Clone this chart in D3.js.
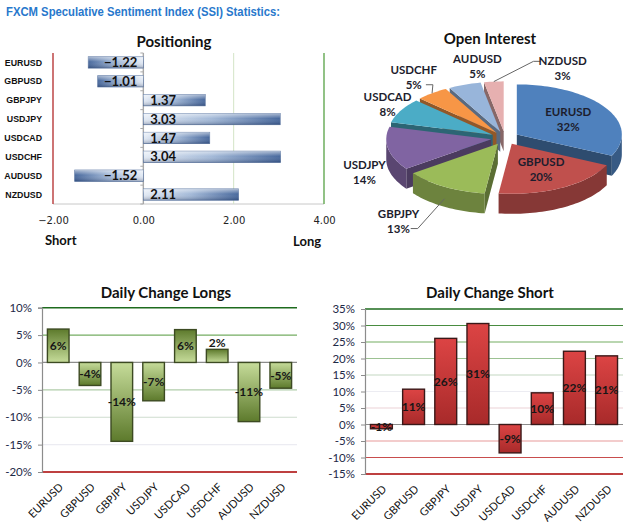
<!DOCTYPE html>
<html>
<head>
<meta charset="utf-8">
<script src="https://cdn.jsdelivr.net/npm/d3@7/dist/d3.min.js"></script>
<style>
  body { margin: 0; background: #fff; }
  text { font-family: Lato, "Liberation Sans", sans-serif; }
</style>
</head>
<body>
<svg id="chart"></svg>
<script>
// ---- data ----
const pairs = ['EURUSD', 'GBPUSD', 'GBPJPY', 'USDJPY', 'USDCAD', 'USDCHF', 'AUDUSD', 'NZDUSD'];
const ssi = [-1.22, -1.01, 1.37, 3.03, 1.47, 3.04, -1.52, 2.11];
const ssiTicks = [-2, 0, 2, 4];
const openInterest = [32, 20, 13, 14, 8, 5, 5, 3];
const longsChange = [6.1, -4.2, -14.4, -7.0, 6.0, 2.4, -10.8, -4.7];
const longsTicks = [10, 5, 0, -5, -10, -15, -20];
const shortsChange = [-1.3, 10.7, 26.1, 30.6, -8.6, 9.6, 22.2, 20.8];
const shortsTicks = [35, 30, 25, 20, 15, 10, 5, 0, -5, -10, -15];

const pieColors = ['#4f81bd', '#c0504d', '#9bbb59', '#8064a2', '#4bacc6', '#f79646', '#98b5da', '#e6b0b0'];

const svg = d3.select('#chart').attr('width', 625).attr('height', 522);
const defs = svg.append('defs');

function linGrad(id, x2, y2, stops){
    const g = defs.append('linearGradient').attr('id', id)
        .attr('x1', 0).attr('y1', 0).attr('x2', x2).attr('y2', y2);
    stops.forEach(s => g.append('stop').attr('offset', s[0]).attr('stop-color', s[1]).attr('stop-opacity', s[2] == null ? 1 : s[2]));
}

linGrad('bluePos', 1, 0, [[0, '#e4ebf5'], [0.5, '#9fb6d6'], [1, '#3f6198']]);
linGrad('blueNeg', 1, 0, [[0, '#3f6198'], [0.5, '#9fb6d6'], [1, '#e4ebf5']]);
linGrad('gloss', 0, 1, [[0, '#fff', 0.55], [0.45, '#fff', 0.05], [1, '#0a1a40', 0.3]]);
linGrad('greenPos', 0, 1, [[0, '#5d7a2c'], [1, '#c6dc9a']]);
linGrad('greenNeg', 0, 1, [[0, '#c6dc9a'], [1, '#5d7a2c']]);
linGrad('redBar', 0, 1, [[0, '#dc4444'], [1, '#a82a2a']]);

// page title
svg.append('text')
    .attr('x', 6).attr('y', 16)
    .attr('textLength', 274).attr('lengthAdjust', 'spacingAndGlyphs')
    .style('font-family', '"Liberation Sans", sans-serif')
    .attr('font-size', 12).attr('font-weight', 'bold').attr('fill', '#2878cc')
    .text('FXCM Speculative  Sentiment  Index (SSI) Statistics:');

class PositionChart{
    constructor(config, data){
        this.config = {
            left: config.left, right: config.right,
            top: config.top, bottom: config.bottom
        };
        this.data = data;
        this.init();
    }

    init(){
        const c = this.config;
        this.chart = svg.append('g');

        this.xscale = d3.scaleLinear()
            .domain([-2, 4])
            .range([c.left, c.right]);

        this.yscale = d3.scaleBand()
            .domain(pairs)
            .range([c.top, c.bottom])
            .paddingInner(0.4)
            .paddingOuter(0.2);

        this.gridcolor = d3.scaleOrdinal()
            .domain(ssiTicks)
            .range(['#b8393a', '#a8a8a8', '#d4e4c6', '#63a852']);

        this.render();
    }

    render(){
        const c = this.config;
        const x = this.xscale, y = this.yscale;

        this.chart.append('text')
            .attr('x', 174).attr('y', 47)
            .attr('text-anchor', 'middle')
            .attr('font-size', 15).attr('font-weight', 'bold').attr('fill', '#111')
            .text('Positioning');

        // bottom axis line
        this.chart.append('line')
            .attr('x1', c.left).attr('x2', c.right)
            .attr('y1', c.bottom).attr('y2', c.bottom)
            .attr('stroke', '#c8c8c8');

        this.chart.selectAll('.grid')
            .data(ssiTicks)
            .join('line')
            .attr('x1', d => x(d)).attr('x2', d => x(d))
            .attr('y1', c.top).attr('y2', c.bottom)
            .attr('stroke', d => this.gridcolor(d))
            .attr('stroke-width', d => d === 2 ? 1 : 1.4);

        // small ticks on the zero line
        this.chart.selectAll('.ztick')
            .data(d3.range(pairs.length + 1))
            .join('line')
            .attr('x1', x(0) - 3).attr('x2', x(0))
            .attr('y1', i => c.top + i * y.step()).attr('y2', i => c.top + i * y.step())
            .attr('stroke', '#aaa');

        const xaxis = d3.axisBottom(x)
            .tickValues(ssiTicks)
            .tickFormat(d3.format('.2f'))
            .tickSize(0)
            .tickPadding(13);

        const ax = this.chart.append('g')
            .attr('transform', `translate(0, ${c.bottom})`)
            .call(xaxis);
        ax.select('.domain').remove();
        ax.selectAll('text')
            .style('font-family', '"DejaVu Sans", sans-serif')
            .attr('font-size', 10).attr('fill', '#222');

        this.chart.selectAll('.cat')
            .data(pairs)
            .join('text')
            .attr('x', 42).attr('y', d => y(d) + y.bandwidth() / 2)
            .attr('dy', '0.35em')
            .attr('text-anchor', 'end')
            .style('font-family', '"Liberation Sans", sans-serif')
            .attr('font-size', 8.8).attr('font-weight', 'bold').attr('fill', '#111')
            .text(d => d);

        const rows = pairs.map((p, i) => ({pair: p, v: this.data[i]}));

        this.chart.selectAll('.bar')
            .data(rows)
            .join('rect')
            .attr('x', d => Math.min(x(0), x(d.v)))
            .attr('y', d => y(d.pair))
            .attr('width', d => Math.abs(x(d.v) - x(0)))
            .attr('height', y.bandwidth())
            .attr('fill', d => d.v < 0 ? 'url(#blueNeg)' : 'url(#bluePos)')
            .attr('stroke', '#5d78a3').attr('stroke-width', 0.7);

        this.chart.selectAll('.gloss')
            .data(rows)
            .join('rect')
            .attr('x', d => Math.min(x(0), x(d.v)))
            .attr('y', d => y(d.pair))
            .attr('width', d => Math.abs(x(d.v) - x(0)))
            .attr('height', y.bandwidth())
            .attr('fill', 'url(#gloss)');

        this.chart.selectAll('.val')
            .data(rows)
            .join('text')
            .attr('x', d => d.v < 0 ? x(0) - 6 : x(0) + 7)
            .attr('y', d => y(d.pair) + y.bandwidth() / 2)
            .attr('dy', '0.36em')
            .attr('text-anchor', d => d.v < 0 ? 'end' : 'start')
            .attr('font-size', 13).attr('font-weight', 'bold').attr('fill', '#111')
            .text(d => d3.format('.2f')(d.v));

        this.chart.append('text')
            .attr('x', 45).attr('y', 245)
            .attr('font-size', 13).attr('font-weight', 'bold').attr('fill', '#111')
            .text('Short');
        this.chart.append('text')
            .attr('x', 293).attr('y', 246)
            .attr('font-size', 13).attr('font-weight', 'bold').attr('fill', '#111')
            .text('Long');
    }
}

class PieChart3D{
    constructor(config, data){
        this.config = config;
        this.data = data;
        this.init();
    }

    init(){
        this.chart = svg.append('g');
        this.slices = d3.pie().sort(null).startAngle(0).endAngle(2 * Math.PI)(this.data)
            .map((s, i) => {
                const c = this.config;
                const mid = (s.startAngle + s.endAngle) / 2;
                return {
                    pair: pairs[i], value: s.value, color: pieColors[i],
                    a0: s.startAngle, a1: s.endAngle, mid: mid,
                    o: [c.explode * Math.sin(mid), -c.explode * Math.cos(mid) * c.ry / c.rx]
                };
            });
        this.line = d3.line();
        this.render();
    }

    pt(a, o, k, dz){
        const c = this.config;
        return [c.cx + o[0] + k * c.rx * Math.sin(a), c.cy + o[1] - k * c.ry * Math.cos(a) + dz];
    }

    arcPts(a0, a1, o, dz){
        const n = Math.max(2, Math.ceil((a1 - a0) / 0.03));
        return d3.range(n + 1).map(i => this.pt(a0 + (a1 - a0) * i / n, o, 1, dz));
    }

    render(){
        const c = this.config;

        this.chart.append('text')
            .attr('x', 490).attr('y', 44)
            .attr('text-anchor', 'middle')
            .attr('font-size', 15).attr('font-weight', 'bold').attr('fill', '#111')
            .text('Open Interest');

        const order = this.slices.slice().sort((a, b) => -Math.cos(a.mid) + Math.cos(b.mid));

        order.forEach(s => {
            const g = this.chart.append('g');
            const v = [c.cx + s.o[0], c.cy + s.o[1]];
            const vb = [v[0], v[1] + c.depth];
            const base = d3.color(s.color);

            // cut faces
            const cuts = [];
            if (Math.sin(s.a0) < -1e-6) cuts.push(s.a0);
            if (Math.sin(s.a1) > 1e-6) cuts.push(s.a1);
            cuts.forEach(a => {
                g.append('path')
                    .attr('d', this.line([v, this.pt(a, s.o, 1, 0), this.pt(a, s.o, 1, c.depth), vb]) + 'Z')
                    .attr('fill', base.darker(1.5));
            });

            // outer wall
            const st = Math.max(s.a0, Math.PI / 2), en = Math.min(s.a1, 3 * Math.PI / 2);
            if (st < en) {
                const pts = this.arcPts(st, en, s.o, 0).concat(this.arcPts(st, en, s.o, c.depth).reverse());
                g.append('path')
                    .attr('d', this.line(pts) + 'Z')
                    .attr('fill', base.darker(1.0));
            }

            // top face
            g.append('path')
                .attr('d', this.line([v].concat(this.arcPts(s.a0, s.a1, s.o, 0))) + 'Z')
                .attr('fill', s.color);
        });

        // labels
        const nudge = this.config.nudge;
        this.slices.forEach(s => {
            const inside = s.value >= 15;
            let p;
            if (inside) {
                p = this.pt(s.mid, s.o, 0.58, 0);
            } else {
                const front = Math.cos(s.mid) < 0 ? c.depth : 0;
                p = [c.cx + 1.45 * c.rx * Math.sin(s.mid), c.cy - 1.5 * c.ry * Math.cos(s.mid) + front];
            }
            const n = nudge[s.pair] || [0, 0];
            p = [p[0] + n[0], p[1] + n[1]];

            if (c.leaders.includes(s.pair)) {
                const rim = this.pt(s.mid, s.o, 1.0, Math.cos(s.mid) < 0 ? c.depth * 0.6 : 0);
                const side = rim[0] > p[0] ? 1 : -1;
                const w = s.pair.length * 3.7 * (side === 1 ? 0.55 : 1);
                const sx = p[0] + side * w, sy = p[1] + (s.pair === 'NZDUSD' ? -7 : 8);
                this.chart.append('path')
                    .attr('d', this.line([[sx, sy], [sx + side * 7, sy], rim]))
                    .attr('fill', 'none').attr('stroke', '#666').attr('stroke-width', 1);
            }

            const t = this.chart.append('text')
                .attr('x', p[0]).attr('y', p[1] - 3)
                .attr('text-anchor', 'middle')
                .attr('font-size', 11.5).attr('font-weight', 'bold').attr('fill', '#1d1d2d');
            t.append('tspan').attr('x', p[0]).text(s.pair);
            t.append('tspan').attr('x', p[0]).attr('dy', 15).text(s.value + '%');
        });
    }
}

class ColumnChart{
    constructor(config, data){
        this.config = config;
        this.data = data;
        this.init();
    }

    init(){
        const c = this.config;
        this.chart = svg.append('g');

        this.xscale = d3.scaleBand()
            .domain(pairs)
            .range([c.left, c.right])
            .paddingInner(0.32)
            .paddingOuter(0.17);

        this.yscale = d3.scaleLinear()
            .domain([d3.min(c.ticks), d3.max(c.ticks)])
            .range([c.bottom, c.top]);

        this.gridcolor = d3.scaleLinear()
            .domain(c.gridStops)
            .range(['#1e6b1e', '#74ad62', '#ececf2', '#e89a9a', '#a80000'])
            .clamp(true);

        this.render();
    }

    render(){
        const c = this.config;
        const x = this.xscale, y = this.yscale;

        this.chart.append('text')
            .attr('x', c.titleX).attr('y', 298)
            .attr('text-anchor', 'middle')
            .attr('font-size', 15).attr('font-weight', 'bold').attr('fill', '#111')
            .text(c.title);

        this.chart.selectAll('.grid')
            .data(c.ticks)
            .join('line')
            .attr('x1', c.left).attr('x2', c.right)
            .attr('y1', d => y(d)).attr('y2', d => y(d))
            .attr('stroke', d => d === 0 ? '#8c8c8c' : this.gridcolor(d))
            .attr('stroke-width', d => (d === d3.min(c.ticks) || d === d3.max(c.ticks)) ? 1.4 : 1.2);

        const yaxis = d3.axisLeft(y)
            .tickValues(c.ticks)
            .tickFormat(d => d + '%')
            .tickSize(4)
            .tickPadding(6);

        const ay = this.chart.append('g')
            .attr('transform', `translate(${c.left}, 0)`)
            .call(yaxis);
        ay.select('.domain').attr('stroke', '#8c8c8c').attr('stroke-width', 1.2);
        ay.selectAll('.tick line').attr('stroke', '#8c8c8c');
        ay.selectAll('text').attr('font-size', 11.5).attr('fill', '#1e2a48');

        // rotated category labels
        const labels = this.chart.append('g');
        labels.selectAll('text')
            .data(pairs)
            .join('text')
            .attr('text-anchor', 'end')
            .attr('dy', '0.35em')
            .attr('transform', d => `translate(${x(d) + x.bandwidth() / 2 + 3}, ${c.bottom + 13}) rotate(-45)`)
            .attr('font-size', 11).attr('fill', '#111')
            .text(d => d);

        const rows = pairs.map((p, i) => ({pair: p, v: this.data[i]}));

        this.chart.selectAll('.bar')
            .data(rows)
            .join('rect')
            .attr('x', d => x(d.pair))
            .attr('y', d => Math.min(y(0), y(d.v)))
            .attr('width', x.bandwidth())
            .attr('height', d => Math.abs(y(d.v) - y(0)))
            .attr('fill', d => c.fill(d.v))
            .attr('stroke', c.stroke).attr('stroke-width', 1.4);

        this.chart.selectAll('.val')
            .data(rows)
            .join('text')
            .attr('x', d => x(d.pair) + x.bandwidth() / 2)
            .attr('y', d => {
                const h = Math.abs(y(d.v) - y(0));
                if (d.v > 0 && h < 16) return y(d.v) - 7;
                return (y(d.v) + y(0)) / 2;
            })
            .attr('dy', '0.35em')
            .attr('text-anchor', 'middle')
            .attr('font-size', 12).attr('font-weight', 'bold').attr('fill', '#161616')
            .text(d => Math.round(d.v) + '%');
    }
}

new PositionChart({left: 53, right: 324, top: 53, bottom: 204}, ssi);

new PieChart3D({
    cx: 505, cy: 138, rx: 105, ry: 50, depth: 20, explode: 14,
    nudge: {GBPJPY: [-29, -2], USDJPY: [9, 0], USDCAD: [16, 2], USDCHF: [2, -2], AUDUSD: [24, -1], NZDUSD: [72, 5]},
    leaders: ['GBPJPY', 'USDCHF', 'NZDUSD']
}, openInterest);

new ColumnChart({
    title: 'Daily Change Longs', titleX: 166,
    left: 42, right: 297, top: 307.7, bottom: 472,
    ticks: longsTicks, gridStops: [10, 5, -15, -17.5, -20],
    fill: v => v < 0 ? 'url(#greenNeg)' : 'url(#greenPos)',
    stroke: '#3c4a22'
}, longsChange);

new ColumnChart({
    title: 'Daily Change Short', titleX: 490,
    left: 365, right: 623, top: 309, bottom: 474,
    ticks: shortsTicks, gridStops: [35, 25, 10, -5, -15],
    fill: () => 'url(#redBar)',
    stroke: '#3a1818'
}, shortsChange);
</script>
</body>
</html>
